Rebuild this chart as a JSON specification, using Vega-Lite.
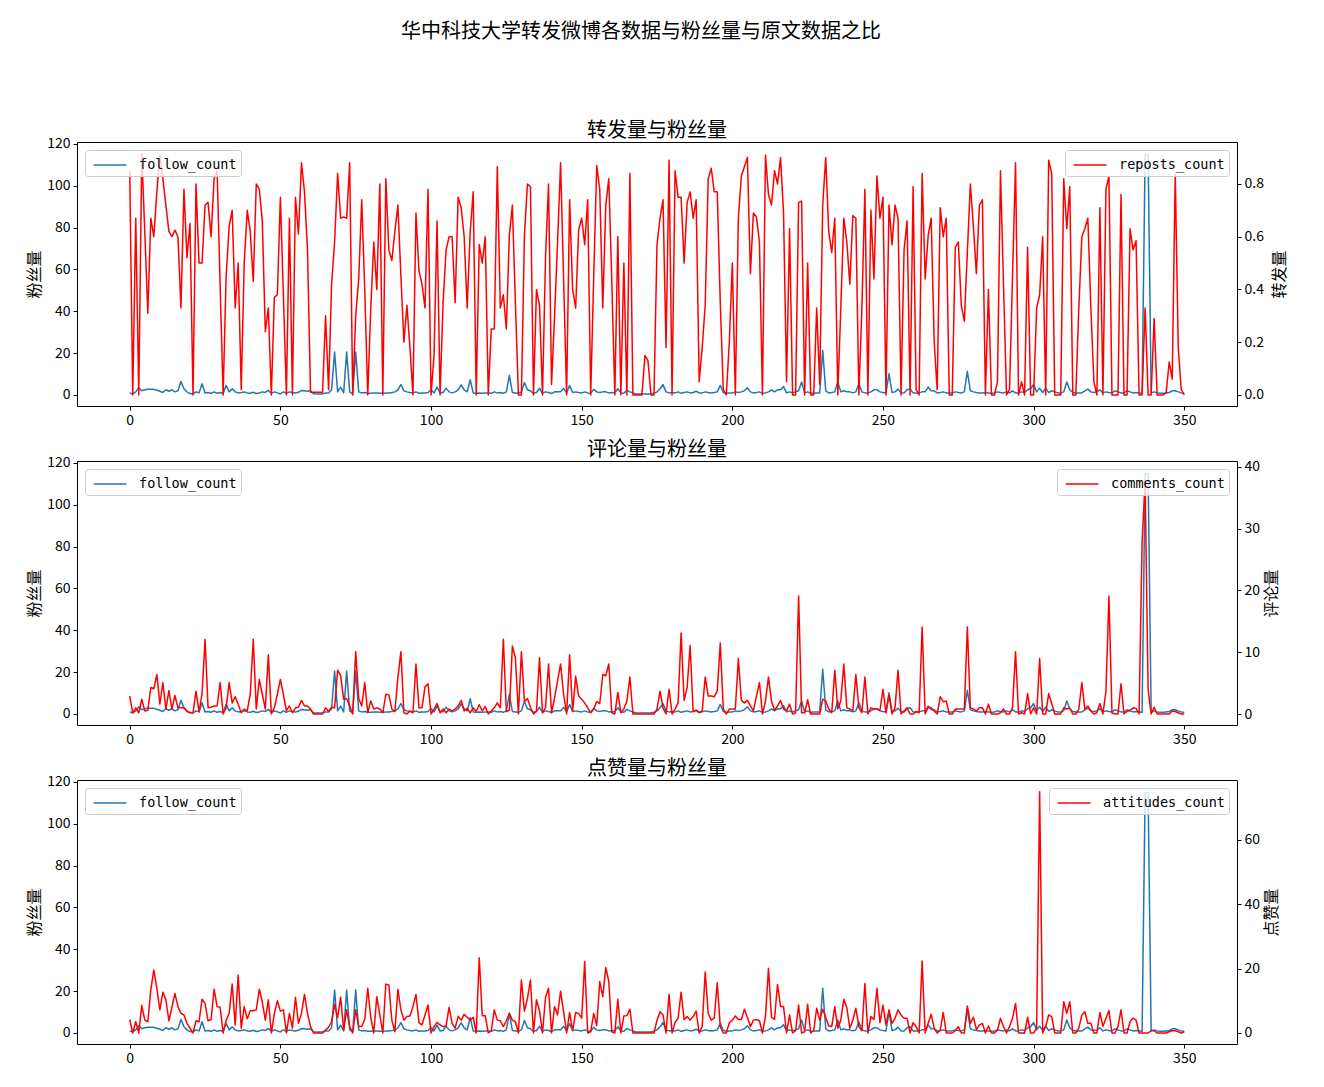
{
"$schema": "https://vega.github.io/schema/vega-lite/v6.json",
"padding": {"left": 26, "top": 22, "right": 5, "bottom": 5},
"background": "white",
"title": {"text": "华中科技大学转发微博各数据与粉丝量与原文数据之比", "fontSize": 20, "fontWeight": "normal", "offset": 78, "anchor": "middle", "color": "black", "dx": -16},
"spacing": 11,
"config": {
  "font": "Noto Sans CJK SC",
  "view": {"stroke": "black", "strokeWidth": 1},
  "axis": {"grid": false, "domain": false, "tickColor": "black", "tickSize": 4, "labelColor": "black", "labelFontSize": 14, "labelFont": "Noto Sans CJK SC", "labelPadding": 3, "titleFontSize": 16, "titleFontWeight": "normal", "titleColor": "black", "titleFont": "Noto Sans CJK SC", "titlePadding": 4},
  "title": {"fontSize": 20, "fontWeight": "normal", "color": "black", "font": "Noto Sans CJK SC", "offset": -4},
  "legend": {"title": null, "offset": 8, "strokeColor": "#cccccc", "fillColor": "rgba(255,255,255,0.8)", "padding": 4, "cornerRadius": 3, "symbolType": "M-1.6,0H1.6", "symbolStrokeWidth": 1.5, "symbolSize": 420, "symbolOffset": 10, "labelFont": "DejaVu Sans Mono", "labelFontSize": 13.5, "labelColor": "black", "labelOffset": 18}
},
"data": {"values": [
{"i":0,"f":1,"r":0.85,"c":2.9,"a":4.2},
{"i":1,"f":0.5,"r":0,"c":0.2,"a":0},
{"i":2,"f":1.5,"r":0.67,"c":1,"a":3.5},
{"i":3,"f":3.5,"r":0,"c":0.2,"a":0},
{"i":4,"f":2,"r":0.915,"c":2.4,"a":8.6},
{"i":5,"f":2.5,"r":0.62,"c":0.5,"a":4},
{"i":6,"f":2.7,"r":0.31,"c":0.6,"a":3.5},
{"i":7,"f":2.8,"r":0.67,"c":4.3,"a":13.4},
{"i":8,"f":2.7,"r":0.6,"c":4.1,"a":19.6},
{"i":9,"f":2.3,"r":0.77,"c":6.4,"a":13.9},
{"i":10,"f":1.8,"r":0.91,"c":1.6,"a":7.2},
{"i":11,"f":1.2,"r":0.82,"c":5.1,"a":12.7},
{"i":12,"f":2.5,"r":0.72,"c":0.8,"a":10.3},
{"i":13,"f":1.8,"r":0.62,"c":3.8,"a":3.8},
{"i":14,"f":2.5,"r":0.6,"c":0.8,"a":8},
{"i":15,"f":1.5,"r":0.625,"c":3,"a":12.3},
{"i":16,"f":2,"r":0.6,"c":1,"a":8.2},
{"i":17,"f":6.5,"r":0.33,"c":1,"a":6.1},
{"i":18,"f":3,"r":0.78,"c":1,"a":5.6},
{"i":19,"f":1.5,"r":0.52,"c":0.4,"a":3},
{"i":20,"f":0.7,"r":0.65,"c":0.2,"a":1.5},
{"i":21,"f":0.5,"r":0,"c":0.2,"a":0},
{"i":22,"f":1.5,"r":0.8,"c":3.7,"a":3.8},
{"i":23,"f":1,"r":0.5,"c":0.4,"a":3.5},
{"i":24,"f":5.4,"r":0.5,"c":3.2,"a":10.5},
{"i":25,"f":1,"r":0.72,"c":12.1,"a":9.2},
{"i":26,"f":1.2,"r":0.73,"c":1,"a":3.8},
{"i":27,"f":0.8,"r":0.6,"c":1.1,"a":4.2},
{"i":28,"f":1.5,"r":0.82,"c":1.3,"a":13.6},
{"i":29,"f":0.8,"r":0.85,"c":1.3,"a":8.2},
{"i":30,"f":1.2,"r":0.42,"c":5.1,"a":8},
{"i":31,"f":0.7,"r":0,"c":0,"a":0},
{"i":32,"f":4.6,"r":0.45,"c":1,"a":4},
{"i":33,"f":1.5,"r":0.64,"c":5.1,"a":6.1},
{"i":34,"f":3,"r":0.7,"c":1.8,"a":15.2},
{"i":35,"f":1.5,"r":0.33,"c":2.8,"a":2.5},
{"i":36,"f":1,"r":0.5,"c":1.6,"a":18},
{"i":37,"f":1.2,"r":0.02,"c":0.2,"a":1.5},
{"i":38,"f":1.5,"r":0.5,"c":0.8,"a":8.2},
{"i":39,"f":1,"r":0.7,"c":0.5,"a":4.4},
{"i":40,"f":0.8,"r":0.62,"c":3.2,"a":6.9},
{"i":41,"f":1.3,"r":0.43,"c":12.1,"a":6.9},
{"i":42,"f":0.7,"r":0.8,"c":0.8,"a":7.2},
{"i":43,"f":1,"r":0.78,"c":5.6,"a":13.6},
{"i":44,"f":1.5,"r":0.66,"c":3.2,"a":9.7},
{"i":45,"f":1.2,"r":0.24,"c":0.8,"a":4},
{"i":46,"f":2.2,"r":0.33,"c":9.6,"a":10.3},
{"i":47,"f":0.8,"r":0,"c":0,"a":0},
{"i":48,"f":1.5,"r":0.37,"c":1,"a":6.1},
{"i":49,"f":1,"r":0.38,"c":3.2,"a":10},
{"i":50,"f":0.5,"r":0.75,"c":5.6,"a":6.8},
{"i":51,"f":1.5,"r":0.38,"c":3.2,"a":7.2},
{"i":52,"f":0.8,"r":0,"c":0.5,"a":0},
{"i":53,"f":1.5,"r":0.67,"c":1.3,"a":6.1},
{"i":54,"f":1.2,"r":0,"c":0.2,"a":1.5},
{"i":55,"f":1,"r":0.75,"c":1,"a":11.1},
{"i":56,"f":1.3,"r":0.61,"c":1.1,"a":3},
{"i":57,"f":2.2,"r":0.88,"c":2.2,"a":6.1},
{"i":58,"f":2,"r":0.77,"c":1.3,"a":12},
{"i":59,"f":1.8,"r":0.55,"c":1.3,"a":6.1},
{"i":60,"f":2,"r":0.01,"c":0.8,"a":2},
{"i":61,"f":0.6,"r":0.01,"c":0,"a":0},
{"i":62,"f":0.5,"r":0.01,"c":0,"a":0},
{"i":63,"f":0.5,"r":0.01,"c":0,"a":0},
{"i":64,"f":0.5,"r":0.01,"c":0,"a":0},
{"i":65,"f":1,"r":0.3,"c":1,"a":0.9},
{"i":66,"f":1,"r":0.02,"c":0.4,"a":1.8},
{"i":67,"f":2.5,"r":0.42,"c":1.1,"a":3.5},
{"i":68,"f":20.5,"r":0.58,"c":1,"a":8.9},
{"i":69,"f":1.5,"r":0.84,"c":7.1,"a":4.8},
{"i":70,"f":3.8,"r":0.67,"c":6.2,"a":11.1},
{"i":71,"f":1,"r":0.675,"c":2.4,"a":0.9},
{"i":72,"f":20.5,"r":0.67,"c":2.5,"a":7.2},
{"i":73,"f":1.5,"r":0.88,"c":1.3,"a":2},
{"i":74,"f":0.5,"r":0,"c":0,"a":0},
{"i":75,"f":20.5,"r":0.3,"c":10.1,"a":7.2},
{"i":76,"f":1.5,"r":0.44,"c":2.5,"a":2},
{"i":77,"f":1,"r":0.74,"c":1.3,"a":2},
{"i":78,"f":1.2,"r":0.4,"c":5.1,"a":4.2},
{"i":79,"f":0.8,"r":0,"c":0.2,"a":13.9},
{"i":80,"f":0.8,"r":0.33,"c":2.1,"a":4.9},
{"i":81,"f":1,"r":0.58,"c":0.8,"a":0},
{"i":82,"f":1,"r":0.4,"c":1,"a":11.3},
{"i":83,"f":0.8,"r":0.8,"c":0.8,"a":5.6},
{"i":84,"f":0.8,"r":0,"c":0.2,"a":0},
{"i":85,"f":1,"r":0.82,"c":3.2,"a":15.2},
{"i":86,"f":1,"r":0.55,"c":3.1,"a":14.9},
{"i":87,"f":1.2,"r":0.51,"c":0.8,"a":4},
{"i":88,"f":1.5,"r":0.62,"c":0.4,"a":0.4},
{"i":89,"f":2.5,"r":0.72,"c":5.9,"a":13.6},
{"i":90,"f":5,"r":0.45,"c":10.1,"a":7.2},
{"i":91,"f":2,"r":0.2,"c":0.2,"a":4},
{"i":92,"f":1.5,"r":0.34,"c":0,"a":5.1},
{"i":93,"f":1.2,"r":0.18,"c":0.5,"a":5.3},
{"i":94,"f":1,"r":0,"c":0.2,"a":8.2},
{"i":95,"f":1.5,"r":0.69,"c":8.1,"a":12},
{"i":96,"f":0.8,"r":0.47,"c":1,"a":3.2},
{"i":97,"f":1,"r":0.42,"c":1,"a":2.5},
{"i":98,"f":1,"r":0.33,"c":4.4,"a":5.6},
{"i":99,"f":1.2,"r":0.78,"c":4.9,"a":8.7},
{"i":100,"f":2.5,"r":0,"c":0,"a":0},
{"i":101,"f":1,"r":0.15,"c":0.8,"a":2},
{"i":102,"f":3.8,"r":0.66,"c":1.7,"a":3.3},
{"i":103,"f":1,"r":0,"c":0.2,"a":2.5},
{"i":104,"f":1.2,"r":0.35,"c":0.8,"a":2},
{"i":105,"f":3.3,"r":0.55,"c":0.2,"a":2.2},
{"i":106,"f":1.5,"r":0.6,"c":0.8,"a":8},
{"i":107,"f":1,"r":0.6,"c":0.5,"a":3},
{"i":108,"f":1.5,"r":0.35,"c":0.8,"a":1.5},
{"i":109,"f":2.5,"r":0.75,"c":1.3,"a":5.1},
{"i":110,"f":4.8,"r":0.71,"c":2.2,"a":4},
{"i":111,"f":2.5,"r":0.6,"c":0.5,"a":5.8},
{"i":112,"f":1.5,"r":0.33,"c":0.9,"a":4.9},
{"i":113,"f":7.3,"r":0.62,"c":0.2,"a":4},
{"i":114,"f":1,"r":0.77,"c":1,"a":4.9},
{"i":115,"f":0.8,"r":0,"c":0.4,"a":0},
{"i":116,"f":1,"r":0.57,"c":1.5,"a":23.4},
{"i":117,"f":0.8,"r":0.5,"c":0.5,"a":5.4},
{"i":118,"f":1,"r":0.6,"c":1.2,"a":5.4},
{"i":119,"f":1,"r":0,"c":0,"a":0},
{"i":120,"f":0.8,"r":0.25,"c":0.5,"a":0.7},
{"i":121,"f":1.5,"r":0.25,"c":1,"a":7.2},
{"i":122,"f":1,"r":0.865,"c":1.8,"a":4},
{"i":123,"f":1.2,"r":0.33,"c":1,"a":3.8},
{"i":124,"f":0.8,"r":0.38,"c":12.1,"a":2},
{"i":125,"f":1.5,"r":0.25,"c":0.4,"a":3.8},
{"i":126,"f":9.4,"r":0.605,"c":0.6,"a":6.1},
{"i":127,"f":1.2,"r":0.72,"c":11,"a":4},
{"i":128,"f":1,"r":0.35,"c":9.1,"a":3.5},
{"i":129,"f":0.8,"r":0,"c":0,"a":0},
{"i":130,"f":1.5,"r":0,"c":10.1,"a":16.5},
{"i":131,"f":6,"r":0.605,"c":2,"a":6.8},
{"i":132,"f":2.5,"r":0.8,"c":2.5,"a":10.8},
{"i":133,"f":2,"r":0.79,"c":1.1,"a":16.5},
{"i":134,"f":0.8,"r":0,"c":0,"a":0},
{"i":135,"f":1.2,"r":0.4,"c":0.5,"a":10.3},
{"i":136,"f":3.2,"r":0.34,"c":9.1,"a":6.9},
{"i":137,"f":0.8,"r":0,"c":0.2,"a":0},
{"i":138,"f":1.5,"r":0.52,"c":1,"a":11.1},
{"i":139,"f":1.2,"r":0.8,"c":8.1,"a":13.9},
{"i":140,"f":0.7,"r":0.04,"c":0.2,"a":0},
{"i":141,"f":1.5,"r":0.3,"c":2.6,"a":8.2},
{"i":142,"f":1.5,"r":0.58,"c":5.4,"a":5.6},
{"i":143,"f":1.5,"r":0.88,"c":8.1,"a":13},
{"i":144,"f":3.2,"r":0.44,"c":3.2,"a":6.6},
{"i":145,"f":1,"r":0,"c":0,"a":0},
{"i":146,"f":4.5,"r":0.74,"c":9.6,"a":6.4},
{"i":147,"f":1.2,"r":0.4,"c":0.4,"a":0.7},
{"i":148,"f":1.5,"r":0.33,"c":6.1,"a":6.4},
{"i":149,"f":1.2,"r":0.625,"c":2.9,"a":6.1},
{"i":150,"f":1,"r":0.67,"c":2.4,"a":4.6},
{"i":151,"f":1.5,"r":0.57,"c":1.8,"a":22.2},
{"i":152,"f":1,"r":0.74,"c":1,"a":0},
{"i":153,"f":0.8,"r":0,"c":0.2,"a":0.4},
{"i":154,"f":2.7,"r":0.45,"c":0.8,"a":6.1},
{"i":155,"f":1.5,"r":0.87,"c":2,"a":2.3},
{"i":156,"f":1.2,"r":0.78,"c":1.7,"a":16},
{"i":157,"f":1.5,"r":0.33,"c":6.4,"a":11.3},
{"i":158,"f":1.5,"r":0.72,"c":6.2,"a":20.4},
{"i":159,"f":1,"r":0.82,"c":8.1,"a":16},
{"i":160,"f":1.2,"r":0.43,"c":0.2,"a":0.4},
{"i":161,"f":1,"r":0,"c":0,"a":0},
{"i":162,"f":3,"r":0.6,"c":3.5,"a":10.5},
{"i":163,"f":1,"r":0,"c":0.2,"a":0},
{"i":164,"f":0.8,"r":0.5,"c":0.8,"a":5.3},
{"i":165,"f":2.2,"r":0,"c":2.1,"a":5.4},
{"i":166,"f":1.5,"r":0.84,"c":6,"a":7.4},
{"i":167,"f":1,"r":0,"c":0,"a":0},
{"i":168,"f":0.5,"r":0,"c":0,"a":0},
{"i":169,"f":0.5,"r":0,"c":0,"a":0},
{"i":170,"f":0.5,"r":0,"c":0,"a":0},
{"i":171,"f":0.5,"r":0.15,"c":0,"a":0},
{"i":172,"f":0.5,"r":0.13,"c":0,"a":0},
{"i":173,"f":0.5,"r":0,"c":0,"a":0},
{"i":174,"f":0.8,"r":0,"c":0,"a":0},
{"i":175,"f":1.5,"r":0.57,"c":0.8,"a":4},
{"i":176,"f":3,"r":0.67,"c":3.7,"a":6.6},
{"i":177,"f":5,"r":0.74,"c":1,"a":5.6},
{"i":178,"f":1.5,"r":0.18,"c":0,"a":0},
{"i":179,"f":1,"r":0.89,"c":4,"a":12},
{"i":180,"f":1.2,"r":0,"c":0,"a":0},
{"i":181,"f":1,"r":0.85,"c":0.8,"a":3.3},
{"i":182,"f":1.5,"r":0.75,"c":1.8,"a":4.6},
{"i":183,"f":0.8,"r":0.75,"c":13.1,"a":12.7},
{"i":184,"f":1.2,"r":0.5,"c":2.2,"a":4.2},
{"i":185,"f":1.5,"r":0.73,"c":4.3,"a":5.1},
{"i":186,"f":1,"r":0.77,"c":11.1,"a":4},
{"i":187,"f":1.2,"r":0.67,"c":0.4,"a":5.1},
{"i":188,"f":1.8,"r":0.74,"c":0.6,"a":6.8},
{"i":189,"f":1,"r":0.05,"c":0.2,"a":0},
{"i":190,"f":1,"r":0.18,"c":0.5,"a":2},
{"i":191,"f":1.5,"r":0.34,"c":6,"a":19},
{"i":192,"f":1.2,"r":0.82,"c":2.9,"a":6.1},
{"i":193,"f":1,"r":0.86,"c":2.9,"a":4},
{"i":194,"f":1.2,"r":0.77,"c":2.8,"a":4.6},
{"i":195,"f":1.5,"r":0.77,"c":3.7,"a":15.6},
{"i":196,"f":4.6,"r":0.35,"c":11.5,"a":2},
{"i":197,"f":1.2,"r":0.02,"c":0.8,"a":0},
{"i":198,"f":0.8,"r":0,"c":0,"a":0},
{"i":199,"f":1,"r":0.2,"c":0.8,"a":3.2},
{"i":200,"f":1,"r":0.5,"c":0.8,"a":4},
{"i":201,"f":1.5,"r":0,"c":0.8,"a":5.3},
{"i":202,"f":1.2,"r":0.67,"c":9,"a":4.2},
{"i":203,"f":1.5,"r":0.83,"c":2.2,"a":4.2},
{"i":204,"f":2,"r":0.865,"c":1.8,"a":7.4},
{"i":205,"f":3.5,"r":0.9,"c":2.2,"a":4.9},
{"i":206,"f":1.5,"r":0.46,"c":1.3,"a":2},
{"i":207,"f":1,"r":0.69,"c":0.5,"a":4},
{"i":208,"f":1.2,"r":0.675,"c":2.9,"a":4.2},
{"i":209,"f":1.5,"r":0.58,"c":5.1,"a":3.8},
{"i":210,"f":0.8,"r":0,"c":0,"a":0},
{"i":211,"f":1,"r":0.91,"c":2.1,"a":5.1},
{"i":212,"f":1.5,"r":0.76,"c":6,"a":20.1},
{"i":213,"f":2.5,"r":0.72,"c":2.1,"a":4.9},
{"i":214,"f":1.5,"r":0.85,"c":0.6,"a":4.2},
{"i":215,"f":2.5,"r":0.8,"c":1.3,"a":15.1},
{"i":216,"f":2.5,"r":0.9,"c":2.2,"a":8.2},
{"i":217,"f":4,"r":0.69,"c":0.8,"a":8.2},
{"i":218,"f":1,"r":0.05,"c":0.5,"a":0},
{"i":219,"f":1.5,"r":0.63,"c":1.6,"a":5.6},
{"i":220,"f":1,"r":0,"c":0,"a":0},
{"i":221,"f":1.5,"r":0,"c":0.2,"a":0.7},
{"i":222,"f":2,"r":0.73,"c":19.1,"a":8.7},
{"i":223,"f":6.2,"r":0.735,"c":0.2,"a":0},
{"i":224,"f":1,"r":0,"c":0.2,"a":0.4},
{"i":225,"f":1.5,"r":0.5,"c":2.3,"a":8.9},
{"i":226,"f":0.8,"r":0,"c":0,"a":0},
{"i":227,"f":1,"r":0,"c":0,"a":0.7},
{"i":228,"f":1,"r":0.33,"c":0,"a":7.7},
{"i":229,"f":1,"r":0.04,"c":0,"a":4},
{"i":230,"f":21.4,"r":0.72,"c":2.4,"a":7.4},
{"i":231,"f":2,"r":0.9,"c":2.1,"a":4.9},
{"i":232,"f":1,"r":0.62,"c":0.8,"a":2.2},
{"i":233,"f":1.2,"r":0.54,"c":0.2,"a":2},
{"i":234,"f":1.5,"r":0.67,"c":7.1,"a":8.2},
{"i":235,"f":6.2,"r":0,"c":0.8,"a":1.5},
{"i":236,"f":1.5,"r":0.33,"c":2.1,"a":4},
{"i":237,"f":2,"r":0.67,"c":8.1,"a":10.5},
{"i":238,"f":1.5,"r":0.58,"c":1,"a":7.9},
{"i":239,"f":1.5,"r":0.42,"c":0.8,"a":1.5},
{"i":240,"f":1,"r":0.68,"c":0.5,"a":4},
{"i":241,"f":1.5,"r":0.67,"c":6.4,"a":7.7},
{"i":242,"f":5.4,"r":0,"c":1,"a":2},
{"i":243,"f":1.5,"r":0.33,"c":0.2,"a":0.7},
{"i":244,"f":1,"r":0.78,"c":6,"a":15.4},
{"i":245,"f":1,"r":0,"c":0,"a":0},
{"i":246,"f":1.5,"r":0.7,"c":1,"a":5.1},
{"i":247,"f":2.5,"r":0.44,"c":0.8,"a":4.2},
{"i":248,"f":2.5,"r":0.83,"c":0.8,"a":13.9},
{"i":249,"f":1.5,"r":0.67,"c":0.6,"a":3.2},
{"i":250,"f":1.2,"r":0.75,"c":4,"a":8.7},
{"i":251,"f":1,"r":0,"c":0.2,"a":2.5},
{"i":252,"f":10.2,"r":0.72,"c":3.1,"a":7.2},
{"i":253,"f":1.2,"r":0.57,"c":0,"a":3},
{"i":254,"f":1.5,"r":0.72,"c":1,"a":4.6},
{"i":255,"f":2.8,"r":0.67,"c":7.1,"a":7.2},
{"i":256,"f":1,"r":0,"c":0,"a":5.6},
{"i":257,"f":1,"r":0.55,"c":0.5,"a":4.6},
{"i":258,"f":2.5,"r":0.66,"c":1,"a":4.6},
{"i":259,"f":3,"r":0,"c":0,"a":0},
{"i":260,"f":1,"r":0.79,"c":0,"a":3.2},
{"i":261,"f":1,"r":0.02,"c":0.4,"a":2},
{"i":262,"f":1,"r":0,"c":0.2,"a":0},
{"i":263,"f":1.5,"r":0.84,"c":14.1,"a":22.4},
{"i":264,"f":1.5,"r":0.44,"c":0,"a":0},
{"i":265,"f":3.8,"r":0.605,"c":1.1,"a":3},
{"i":266,"f":2,"r":0.67,"c":1,"a":5.8},
{"i":267,"f":2,"r":0.2,"c":0.5,"a":1.5},
{"i":268,"f":1,"r":0.02,"c":0,"a":0},
{"i":269,"f":1.2,"r":0.71,"c":2.8,"a":0.9},
{"i":270,"f":1.5,"r":0.6,"c":2,"a":6.4},
{"i":271,"f":1,"r":0.67,"c":2.1,"a":0},
{"i":272,"f":1,"r":0,"c":0,"a":0},
{"i":273,"f":1,"r":0,"c":0,"a":0},
{"i":274,"f":1.5,"r":0.56,"c":0.8,"a":0.7},
{"i":275,"f":1.2,"r":0.58,"c":0.8,"a":2},
{"i":276,"f":1,"r":0.34,"c":0.8,"a":0},
{"i":277,"f":1.5,"r":0.28,"c":0.8,"a":0},
{"i":278,"f":11.3,"r":0.54,"c":14.1,"a":8.4},
{"i":279,"f":2,"r":0.8,"c":1,"a":3},
{"i":280,"f":1.5,"r":0.64,"c":0.8,"a":4.9},
{"i":281,"f":1.2,"r":0.46,"c":0.5,"a":1.1},
{"i":282,"f":1,"r":0.72,"c":1,"a":2.5},
{"i":283,"f":1,"r":0.74,"c":1,"a":3},
{"i":284,"f":1.2,"r":0,"c":0,"a":0},
{"i":285,"f":1,"r":0.4,"c":1.6,"a":2.2},
{"i":286,"f":0.8,"r":0,"c":0,"a":0},
{"i":287,"f":1,"r":0,"c":0,"a":0},
{"i":288,"f":1.5,"r":0.05,"c":0,"a":0.9},
{"i":289,"f":1.2,"r":0.85,"c":0.2,"a":4.6},
{"i":290,"f":1,"r":0.42,"c":0.8,"a":2},
{"i":291,"f":1.5,"r":0,"c":0,"a":0},
{"i":292,"f":1,"r":0.02,"c":0,"a":2},
{"i":293,"f":2,"r":0.45,"c":1,"a":4.6},
{"i":294,"f":1,"r":0.88,"c":10.1,"a":9.2},
{"i":295,"f":1,"r":0,"c":0,"a":0},
{"i":296,"f":1.5,"r":0.05,"c":0.2,"a":0},
{"i":297,"f":1.2,"r":0,"c":0,"a":0},
{"i":298,"f":2.5,"r":0.56,"c":3.3,"a":4.9},
{"i":299,"f":3,"r":0,"c":0,"a":0},
{"i":300,"f":5,"r":0,"c":1,"a":0},
{"i":301,"f":1.5,"r":0.33,"c":0,"a":1.5},
{"i":302,"f":3.3,"r":0.38,"c":9,"a":75},
{"i":303,"f":1.2,"r":0.6,"c":0,"a":0},
{"i":304,"f":3.3,"r":0,"c":0,"a":2},
{"i":305,"f":1.2,"r":0.89,"c":3.3,"a":5.6},
{"i":306,"f":2,"r":0.84,"c":1.7,"a":5.1},
{"i":307,"f":1.5,"r":0,"c":0,"a":0},
{"i":308,"f":1,"r":0,"c":0,"a":0},
{"i":309,"f":1,"r":0,"c":0,"a":0},
{"i":310,"f":1.5,"r":0.82,"c":1,"a":9.7},
{"i":311,"f":6.2,"r":0.63,"c":0.8,"a":6.1},
{"i":312,"f":2.5,"r":0.79,"c":1,"a":9.7},
{"i":313,"f":1.2,"r":0,"c":0,"a":0},
{"i":314,"f":1,"r":0,"c":0,"a":0},
{"i":315,"f":1,"r":0.33,"c":0.8,"a":1.5},
{"i":316,"f":1,"r":0.6,"c":5.1,"a":5.6},
{"i":317,"f":2,"r":0.63,"c":0.8,"a":6.6},
{"i":318,"f":2.8,"r":0.67,"c":1.3,"a":3},
{"i":319,"f":1.5,"r":0.33,"c":0.5,"a":3},
{"i":320,"f":1.2,"r":0.05,"c":0,"a":0},
{"i":321,"f":1.5,"r":0,"c":0.2,"a":0},
{"i":322,"f":2.5,"r":0.71,"c":1.7,"a":6.4},
{"i":323,"f":1,"r":0,"c":0,"a":2},
{"i":324,"f":1.5,"r":0.78,"c":3.7,"a":4.6},
{"i":325,"f":1.2,"r":0.83,"c":19.1,"a":7},
{"i":326,"f":1,"r":0,"c":0.2,"a":0},
{"i":327,"f":2,"r":0,"c":0,"a":0},
{"i":328,"f":1.5,"r":0,"c":0,"a":2},
{"i":329,"f":1,"r":0.76,"c":4.9,"a":7.2},
{"i":330,"f":1,"r":0,"c":0,"a":0},
{"i":331,"f":2,"r":0,"c":0.4,"a":0},
{"i":332,"f":1.5,"r":0.63,"c":0.6,"a":3.5},
{"i":333,"f":1,"r":0.55,"c":1,"a":4.6},
{"i":334,"f":1.2,"r":0.585,"c":0.9,"a":4},
{"i":335,"f":1,"r":0,"c":0,"a":0},
{"i":336,"f":0.8,"r":0,"c":27.8,"a":0},
{"i":337,"f":115,"r":0.33,"c":37.8,"a":0},
{"i":338,"f":115,"r":0,"c":4,"a":0},
{"i":339,"f":1,"r":0,"c":0,"a":0.7},
{"i":340,"f":1.5,"r":0.29,"c":1.1,"a":0.7},
{"i":341,"f":1,"r":0,"c":0,"a":0},
{"i":342,"f":0.8,"r":0,"c":0,"a":0},
{"i":343,"f":0.8,"r":0,"c":0,"a":0},
{"i":344,"f":1,"r":0.01,"c":0,"a":0},
{"i":345,"f":1.2,"r":0.125,"c":0,"a":0.4},
{"i":346,"f":2,"r":0.06,"c":0.5,"a":0.7},
{"i":347,"f":2,"r":0.84,"c":0.4,"a":0.7},
{"i":348,"f":1.5,"r":0.18,"c":0.2,"a":0.4},
{"i":349,"f":1,"r":0.02,"c":0,"a":0},
{"i":350,"f":0.8,"r":0,"c":0,"a":0.4}
]},
"vconcat": [
{
 "title": {"text": "转发量与粉丝量"},
 "width": 1160, "height": 264,
 "layer": [
  {"mark": {"type": "line", "strokeWidth": 1.5, "strokeJoin": "round"},
   "encoding": {
    "x": {"field": "i", "type": "quantitative", "scale": {"domain": [-17.5, 367.5], "nice": false, "zero": false}, "axis": {"values": [0,50,100,150,200,250,300,350], "title": null}},
    "y": {"field": "f", "type": "quantitative", "scale": {"domain": [-5.26, 120.95], "nice": false, "zero": false}, "axis": {"values": [0,20,40,60,80,100,120], "title": "粉丝量", "orient": "left"}},
    "color": {"datum": "follow_count", "type": "nominal", "scale": {"range": ["#1f77b4"]}, "legend": {"orient": "top-left"}}
   }},
  {"mark": {"type": "line", "strokeWidth": 1.5, "strokeJoin": "round"},
   "encoding": {
    "x": {"field": "i", "type": "quantitative"},
    "y": {"field": "r", "type": "quantitative", "scale": {"domain": [-0.0417, 0.959], "nice": false, "zero": false}, "axis": {"values": [0,0.2,0.4,0.6,0.8], "format": ".1f", "title": "转发量", "orient": "right", "titleAngle": 270, "titleBaseline": "top", "titlePadding": 8}},
    "color": {"datum": "reposts_count", "type": "nominal", "scale": {"range": ["#ff0000"]}, "legend": {"orient": "top-right"}}
   }}
 ],
 "resolve": {"scale": {"y": "independent", "color": "independent"}}
},
{
 "title": {"text": "评论量与粉丝量"},
 "width": 1160, "height": 264,
 "layer": [
  {"mark": {"type": "line", "strokeWidth": 1.5, "strokeJoin": "round"},
   "encoding": {
    "x": {"field": "i", "type": "quantitative", "scale": {"domain": [-17.5, 367.5], "nice": false, "zero": false}, "axis": {"values": [0,50,100,150,200,250,300,350], "title": null}},
    "y": {"field": "f", "type": "quantitative", "scale": {"domain": [-5.26, 120.95], "nice": false, "zero": false}, "axis": {"values": [0,20,40,60,80,100,120], "title": "粉丝量", "orient": "left"}},
    "color": {"datum": "follow_count", "type": "nominal", "scale": {"range": ["#1f77b4"]}, "legend": {"orient": "top-left"}}
   }},
  {"mark": {"type": "line", "strokeWidth": 1.5, "strokeJoin": "round"},
   "encoding": {
    "x": {"field": "i", "type": "quantitative"},
    "y": {"field": "c", "type": "quantitative", "scale": {"domain": [-1.78, 40.97], "nice": false, "zero": false}, "axis": {"values": [0,10,20,30,40], "title": "评论量", "orient": "right", "titleAngle": 270, "titleBaseline": "top"}},
    "color": {"datum": "comments_count", "type": "nominal", "scale": {"range": ["#ff0000"]}, "legend": {"orient": "top-right"}}
   }}
 ],
 "resolve": {"scale": {"y": "independent", "color": "independent"}}
},
{
 "title": {"text": "点赞量与粉丝量"},
 "width": 1160, "height": 264,
 "layer": [
  {"mark": {"type": "line", "strokeWidth": 1.5, "strokeJoin": "round"},
   "encoding": {
    "x": {"field": "i", "type": "quantitative", "scale": {"domain": [-17.5, 367.5], "nice": false, "zero": false}, "axis": {"values": [0,50,100,150,200,250,300,350], "title": null}},
    "y": {"field": "f", "type": "quantitative", "scale": {"domain": [-5.26, 120.95], "nice": false, "zero": false}, "axis": {"values": [0,20,40,60,80,100,120], "title": "粉丝量", "orient": "left"}},
    "color": {"datum": "follow_count", "type": "nominal", "scale": {"range": ["#1f77b4"]}, "legend": {"orient": "top-left"}}
   }},
  {"mark": {"type": "line", "strokeWidth": 1.5, "strokeJoin": "round"},
   "encoding": {
    "x": {"field": "i", "type": "quantitative"},
    "y": {"field": "a", "type": "quantitative", "scale": {"domain": [-3.42, 78.65], "nice": false, "zero": false}, "axis": {"values": [0,20,40,60], "title": "点赞量", "orient": "right", "titleAngle": 270, "titleBaseline": "top"}},
    "color": {"datum": "attitudes_count", "type": "nominal", "scale": {"range": ["#ff0000"]}, "legend": {"orient": "top-right"}}
   }}
 ],
 "resolve": {"scale": {"y": "independent", "color": "independent"}}
}
]
}
